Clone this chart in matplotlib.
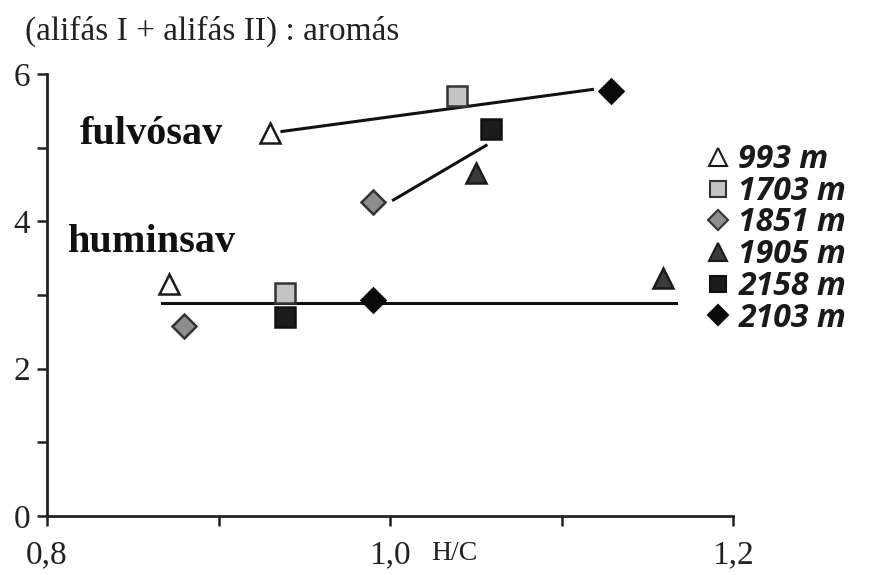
import matplotlib
matplotlib.use("Agg")
import matplotlib.pyplot as plt
from matplotlib.lines import Line2D

# ---- data ----
series_labels = ["993 m", "1703 m", "1851 m", "1905 m", "2158 m", "2103 m"]
fulvo_hc = [0.930, 1.039, 0.990, 1.050, 1.059, 1.129]
fulvo_ratio = [5.20, 5.70, 4.26, 4.65, 5.26, 5.77]
humin_hc = [0.871, 0.939, 0.880, 1.159, 0.939, 0.990]
humin_ratio = [3.15, 3.03, 2.58, 3.23, 2.70, 2.93]

fulvo_line1_x = [0.937, 1.118]
fulvo_line1_y = [5.22, 5.79]
fulvo_line2_x = [1.002, 1.056]
fulvo_line2_y = [4.29, 5.03]
humin_line_x = [0.867, 1.167]
humin_line_y = [2.89, 2.89]

x_ticks = [0.8, 0.9, 1.0, 1.1, 1.2]
x_ticklabels = ["0,8", "", "1,0", "", "1,2"]
y_ticks = [0, 1, 2, 3, 4, 5, 6]
y_ticklabels = ["0", "", "2", "", "4", "", "6"]

# ---- styles ----
markers = ["^", "s", "D", "^", "s", "D"]
faces = ["white", "#c4c4c4", "#8e8e8e", "#3a3a3a", "#1c1c1c", "#0a0a0a"]
edges = ["#1a1a1a", "#333333", "#333333", "#1a1a1a", "#111111", "#0a0a0a"]
sizes = [15, 14, 12.5, 15, 14, 12.5]

serif = "Liberation Serif"

fig = plt.figure(figsize=(8.76, 5.75), dpi=100)
ax = fig.add_axes([47 / 876, 1 - 516 / 575, (733 - 47) / 876, (516 - 74) / 575])

lw = 2.2
ax.plot(fulvo_line1_x, fulvo_line1_y, color="#111111", lw=lw, zorder=2)
ax.plot(fulvo_line2_x, fulvo_line2_y, color="#111111", lw=lw, zorder=2)
ax.plot(humin_line_x, humin_line_y, color="#111111", lw=lw, zorder=2)

for i in range(len(series_labels)):
    for xs, ys in ((fulvo_hc, fulvo_ratio), (humin_hc, humin_ratio)):
        ax.plot([xs[i]], [ys[i]], linestyle="none", marker=markers[i],
                markersize=sizes[i], markerfacecolor=faces[i],
                markeredgecolor=edges[i], markeredgewidth=1.8, zorder=3,
                clip_on=False)

ax.set_xlim(0.8, 1.2)
ax.set_ylim(0, 6)
ax.set_xticks(x_ticks)
ax.set_xticklabels(x_ticklabels, fontfamily=serif, fontsize=24)
ax.set_yticks(y_ticks)
ax.set_yticklabels(y_ticklabels, fontfamily=serif, fontsize=24)
for s in ("top", "right"):
    ax.spines[s].set_visible(False)
for s in ("left", "bottom"):
    ax.spines[s].set_linewidth(2.0)
    ax.spines[s].set_color("#222222")
ax.tick_params(axis="both", direction="out", length=7, width=1.8, color="#222222",
               labelcolor="#222222")
ax.tick_params(axis="x", pad=10)
ax.tick_params(axis="y", pad=5)

# axis label H/C
fig.text(454 / 876, 1 - 553 / 575, "H/C", fontfamily=serif, fontsize=20,
         ha="center", va="center", color="#222222")
# title
fig.text(25 / 876, 1 - 31 / 575, "(alifás I + alifás II) : aromás", fontfamily=serif,
         fontsize=24, ha="left", va="center", color="#222222")

# annotations
ax.text(80 / 876, 1 - 135 / 575, "fulvósav", transform=fig.transFigure,
        fontfamily=serif, fontweight="bold", fontsize=29, ha="left", va="center",
        color="#111111")
ax.text(68 / 876, 1 - 243 / 575, "huminsav", transform=fig.transFigure,
        fontfamily=serif, fontweight="bold", fontsize=29, ha="left", va="center",
        color="#111111")

# legend
handles = [Line2D([0], [0], linestyle="none", marker=markers[i], markersize=sizes[i] * 0.85,
                  markerfacecolor=faces[i], markeredgecolor=edges[i],
                  markeredgewidth=1.5) for i in range(len(series_labels))]
leg = fig.legend(handles, series_labels, loc="upper left",
                 bbox_to_anchor=(700 / 876, 1 - 143 / 575), frameon=False,
                 prop={"family": "Open Sans", "weight": "bold", "style": "italic", "size": 23},
                 handletextpad=0.1, labelspacing=-0.04, handlelength=1.1,
                 borderpad=0, borderaxespad=0)
for t in leg.get_texts():
    t.set_color("#1a1a1a")

fig.savefig("out.png", dpi=100)
